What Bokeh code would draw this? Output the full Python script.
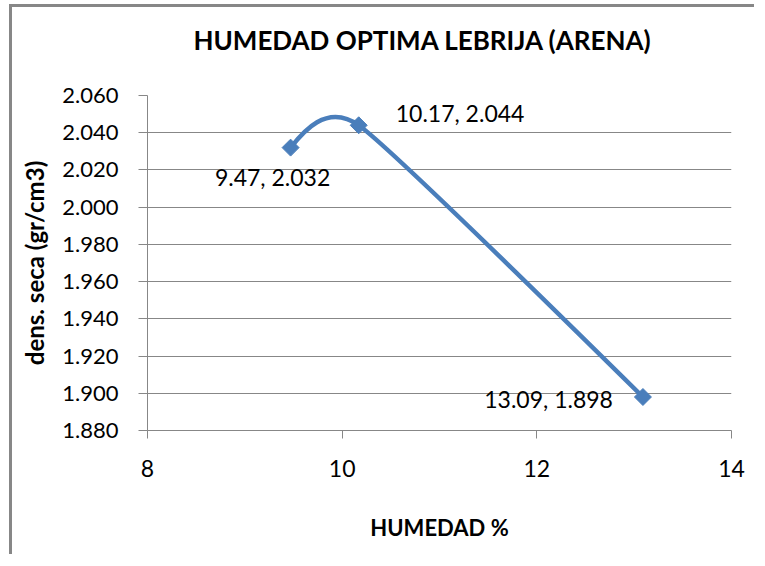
import numpy as np
from bokeh.plotting import figure
from bokeh.models import ColumnDataSource, FixedTicker, PrintfTickFormatter, Title
from bokeh.core.properties import value
from bokeh.embed import file_html
from bokeh.resources import INLINE

# ---- data ----
humedad = [9.47, 10.17, 13.09]
densidad = [2.032, 2.044, 1.898]
x_ticks = [8, 10, 12, 14]
y_ticks = [1.880, 1.900, 1.920, 1.940, 1.960, 1.980, 2.000, 2.020, 2.040, 2.060]
title_text = "HUMEDAD OPTIMA LEBRIJA (ARENA)"
x_label = "HUMEDAD %"
y_label = "dens. seca (gr/cm3)"

# ---- layout ----
W, H = 745, 550
ML, MR, MT, MB = 135, 26, 88, 127
FW, FH = W - ML - MR, H - MT - MB
X0, X1 = x_ticks[0], x_ticks[-1]
Y0, Y1 = y_ticks[0], y_ticks[-1]
BLUE = "#4A7EBB"
GREY = "#878787"
FONT = "Lato"


def smooth_segments(xs, ys, kx, ky, s=0.55):
    """Excel-like smoothed line: cubic Bezier segments computed in screen space."""
    P = np.column_stack([np.asarray(xs) * kx, np.asarray(ys) * ky])
    n = len(P)
    d = np.linalg.norm(np.diff(P, axis=0), axis=1)
    tang = {}
    for i in range(1, n - 1):
        v = P[i + 1] - P[i - 1]
        tang[i] = v / np.linalg.norm(v) * s * min(d[i - 1], d[i])
    out = {k: [] for k in ["x0", "y0", "x1", "y1", "cx0", "cy0", "cx1", "cy1"]}
    for i in range(n - 1):
        c1 = P[i] + tang[i] if i in tang else None
        c2 = P[i + 1] - tang[i + 1] if (i + 1) in tang else None
        if c1 is None and c2 is None:
            c1 = P[i] + (P[i + 1] - P[i]) / 3
            c2 = P[i + 1] - (P[i + 1] - P[i]) / 3
        elif c1 is None:
            c1 = P[i] + (c2 - P[i]) / 3
        elif c2 is None:
            c2 = P[i + 1] + (c1 - P[i + 1]) / 3
        for key, pt in (("0", P[i]), ("1", P[i + 1])):
            out["x" + key].append(pt[0] / kx)
            out["y" + key].append(pt[1] / ky)
        out["cx0"].append(c1[0] / kx)
        out["cy0"].append(c1[1] / ky)
        out["cx1"].append(c2[0] / kx)
        out["cy1"].append(c2[1] / ky)
    return out


p = figure(width=W, height=H, x_range=(X0, X1), y_range=(Y0, Y1), title=None,
           output_backend="svg", toolbar_location=None,
           min_border_left=ML, min_border_right=MR, min_border_top=MT, min_border_bottom=MB)
# chart-area frame (left and top edges only), drawn as an offset shadow
p.styles = {"box-shadow": "-3px -3px 0px 0px " + GREY,
            "margin-top": "7px", "margin-left": "12px"}
p.background_fill_color = "white"
p.border_fill_color = "white"
p.outline_line_color = None

# title (a blank spacer panel sits between the title and the plot area)
p.add_layout(Title(text=" ", text_font_size="10px", standoff=22), "above")
p.add_layout(Title(text=title_text, align="left", offset=46, standoff=10,
                   text_font=FONT, text_font_size="26px", text_font_style="bold",
                   text_color="black"), "above")

# axes
p.xaxis.ticker = FixedTicker(ticks=x_ticks)
p.yaxis.ticker = FixedTicker(ticks=y_ticks)
p.yaxis.formatter = PrintfTickFormatter(format="%.3f")
for ax in (p.xaxis[0], p.yaxis[0]):
    ax.axis_line_color = GREY
    ax.major_tick_line_color = GREY
    ax.minor_tick_line_color = None
    ax.major_tick_in = 0
    ax.major_label_text_font = FONT
    ax.major_label_text_color = "black"
    ax.axis_label_text_font = FONT
    ax.axis_label_text_font_style = "bold"
    ax.axis_label_text_color = "black"
p.xaxis.major_label_text_font_size = "23px"
p.yaxis.major_label_text_font_size = "22px"
p.xaxis.major_tick_out = 8
p.yaxis.major_tick_out = 9
p.xaxis.major_label_standoff = 21
p.yaxis.major_label_standoff = 20
p.xaxis.axis_label = x_label
p.yaxis.axis_label = y_label
p.xaxis.axis_label_text_font_size = "22px"
p.yaxis.axis_label_text_font_size = "24px"
p.xaxis.axis_label_standoff = 34
p.yaxis.axis_label_standoff = 10

p.xgrid.grid_line_color = None
p.ygrid.grid_line_color = GREY
p.ygrid.grid_line_width = 1

# smoothed line
segs = smooth_segments(humedad, densidad, FW / (X1 - X0), FH / (Y1 - Y0))
p.bezier(x0="x0", y0="y0", x1="x1", y1="y1", cx0="cx0", cy0="cy0", cx1="cx1", cy1="cy1",
         source=ColumnDataSource(segs), line_color=BLUE, line_width=4.5)

# markers
src = ColumnDataSource(dict(x=humedad, y=densidad))
p.scatter("x", "y", source=src, marker="square", angle=np.pi / 4, size=12,
          fill_color=BLUE, line_color=BLUE)

# data labels
labels = [f"{x:.2f}, {y:.3f}" for x, y in zip(humedad, densidad)]
placements = [(-18, 29, "center"), (37, -12, "left"), (-30, 2, "right")]
for x, y, t, (dx, dy, al) in zip(humedad, densidad, labels, placements):
    p.text(x=[x], y=[y], text=[t], x_offset=dx, y_offset=dy, text_align=al,
           text_baseline="alphabetic", text_font=value(FONT), text_font_size="23px",
           text_color="black")

open("out.html", "w").write(file_html(p, INLINE))
